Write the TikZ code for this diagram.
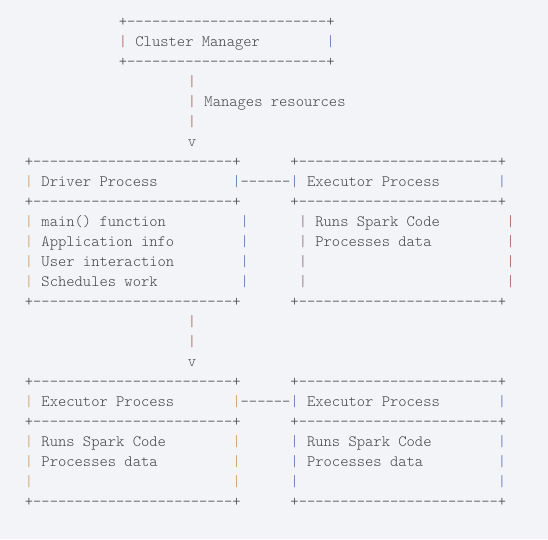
\documentclass[tikz,border=0pt]{standalone}
\usepackage{fontspec}
\newfontfamily\asciimono{lmmonolt10-regular.otf}
\definecolor{bg}{HTML}{F2F4F8}
\definecolor{txt}{HTML}{444444}
\definecolor{cred}{HTML}{A8564F}
\definecolor{corg}{HTML}{C8984E}
\definecolor{cblu}{HTML}{5270B4}
\definecolor{cpur}{HTML}{85627E}
\newcommand\dashes{------------------------}
% place text at column #2 (main grid) and text row #3
\newcommand\cell[5]{\node[text=#4] (#1) at ({24.85+8.3*(#2)},{26.7+20*(#3)}) {#5};}
\begin{document}
\begin{tikzpicture}[x=1pt,y=-1pt,
  every node/.style={inner sep=0pt, outer sep=0pt, anchor=base west,
    font=\asciimono\fontsize{15.81}{20}\selectfont}]
\fill[bg] (0,0) rectangle (548,539);
\useasboundingbox (0,0) rectangle (548,539);
% Cluster Manager box
\cell{cmtop}{11.325}{0}{txt}{+\dashes+}
\cell{cmL}{11.325}{1}{cred}{|}
\cell{cmtext}{13.325}{1}{txt}{Cluster Manager}
\cell{cmR}{36.325}{1}{cblu}{|}
\cell{cmbot}{11.325}{2}{txt}{+\dashes+}
% connector down
\cell{pa}{19.639}{3}{cred}{|}
\cell{pb}{19.639}{4}{cred}{|}
\cell{mres}{21.639}{4}{txt}{Manages resources}
\cell{pc}{19.639}{5}{cred}{|}
\cell{va}{19.639}{6}{txt}{v}
% Driver and Executor row
\cell{dtop}{0}{7}{txt}{+\dashes+}
\cell{etop}{32}{7}{txt}{+\dashes+}
\cell{dL}{0}{8}{corg}{|}
\cell{dtext}{2}{8}{txt}{Driver Process}
\cell{dR}{25}{8}{cblu}{|}
\cell{linka}{26}{8}{txt}{------}
\cell{eL}{32}{8}{cblu}{|}
\cell{etext}{34}{8}{txt}{Executor Process}
\cell{eR}{57}{8}{cblu}{|}
\cell{dmid}{0}{9}{txt}{+\dashes+}
\cell{emid}{32}{9}{txt}{+\dashes+}
\foreach \r in {10,...,13}{
  \cell{dbl\r}{0}{\r}{corg}{|}
  \cell{dbr\r}{26}{\r}{cblu}{|}
  \cell{ebl\r}{33}{\r}{cpur}{|}
  \cell{ebr\r}{58}{\r}{cred}{|}
}
\cell{da}{2}{10}{txt}{main() function}
\cell{db}{2}{11}{txt}{Application info}
\cell{dc}{2}{12}{txt}{User interaction}
\cell{dd}{2}{13}{txt}{Schedules work}
\cell{ea}{35}{10}{txt}{Runs Spark Code}
\cell{eb}{35}{11}{txt}{Processes data}
\cell{dbot}{0}{14}{txt}{+\dashes+}
\cell{ebot}{32}{14}{txt}{+\dashes+}
% connector down
\cell{pd}{19.639}{15}{cred}{|}
\cell{pe}{19.639}{16}{cred}{|}
\cell{vb}{19.639}{17}{txt}{v}
% bottom Executor row
\cell{xtop}{0}{18}{txt}{+\dashes+}
\cell{ytop}{32}{18}{txt}{+\dashes+}
\cell{xL}{0}{19}{corg}{|}
\cell{xtext}{2}{19}{txt}{Executor Process}
\cell{xR}{25}{19}{corg}{|}
\cell{linkb}{26}{19}{txt}{------}
\cell{yL}{32}{19}{cblu}{|}
\cell{ytext}{34}{19}{txt}{Executor Process}
\cell{yR}{57}{19}{cblu}{|}
\cell{xmid}{0}{20}{txt}{+\dashes+}
\cell{ymid}{32}{20}{txt}{+\dashes+}
\foreach \r in {21,...,23}{
  \cell{xbl\r}{0}{\r}{corg}{|}
  \cell{xbr\r}{25}{\r}{corg}{|}
  \cell{ybl\r}{32}{\r}{cblu}{|}
  \cell{ybr\r}{57}{\r}{cblu}{|}
}
\cell{xa}{2}{21}{txt}{Runs Spark Code}
\cell{xb}{2}{22}{txt}{Processes data}
\cell{ya}{34}{21}{txt}{Runs Spark Code}
\cell{yb}{34}{22}{txt}{Processes data}
\cell{xbot}{0}{24}{txt}{+\dashes+}
\cell{ybot}{32}{24}{txt}{+\dashes+}
\end{tikzpicture}
\end{document}
